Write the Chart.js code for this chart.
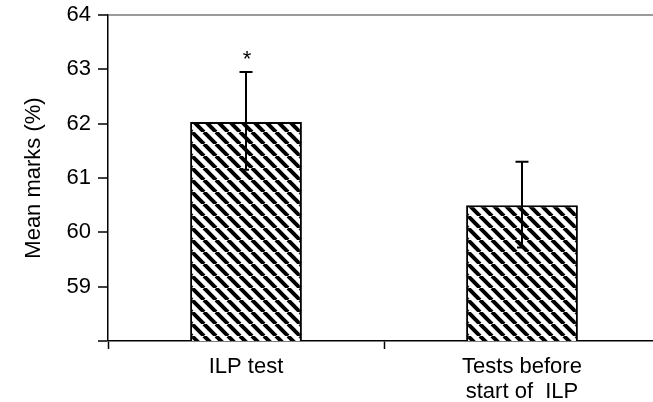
<!DOCTYPE html>
<html>
<head>
<meta charset="utf-8">
<script src="https://cdn.jsdelivr.net/npm/chart.js@4.4.1/dist/chart.umd.min.js"></script>
<style>
  html, body { margin: 0; padding: 0; background: #fff; }
  #wrap { width: 653px; height: 402px; overflow: hidden; position: relative; }
  #c { position: absolute; left: 0; top: 0; }
</style>
</head>
<body>
<div id="wrap"><canvas id="c" width="660" height="402"></canvas></div>
<script>
const categories = [['ILP test'], ['Tests before', 'start of  ILP']];
const means = [62.03, 60.5];
const errUpper = [0.92, 0.8];
const errLower = [0.88, 0.78];
const significance = ['*', ''];
const yTicks = [58, 59, 60, 61, 62, 63, 64];
const yMin = 58, yMax = 64;

const FONT = '"Liberation Sans", Arial, sans-serif';

function makeHatch() {
  const n = 12;
  const p = document.createElement('canvas');
  p.width = n; p.height = n;
  const g = p.getContext('2d');
  g.fillStyle = '#fff';
  g.fillRect(0, 0, n, n);
  g.strokeStyle = '#000';
  g.lineWidth = 4;
  for (const x of [-n, 0, n]) {
    g.beginPath();
    g.moveTo(x, 0);
    g.lineTo(x + n, n);
    g.stroke();
  }
  return document.getElementById('c').getContext('2d').createPattern(p, 'repeat');
}

const errorBars = {
  id: 'errorBars',
  afterDatasetsDraw(chart) {
    const ctx = chart.ctx;
    const meta = chart.getDatasetMeta(0);
    const ys = chart.scales.y;
    ctx.save();
    ctx.strokeStyle = '#000';
    ctx.lineWidth = 2;
    meta.data.forEach((bar, i) => {
      const x = bar.x;
      const yTop = ys.getPixelForValue(means[i] + errUpper[i]);
      const yBot = ys.getPixelForValue(means[i] - errLower[i]);
      ctx.beginPath();
      ctx.moveTo(x, yTop);
      ctx.lineTo(x, yBot);
      ctx.moveTo(x - 6.5, yTop);
      ctx.lineTo(x + 6.5, yTop);
      ctx.moveTo(x - 5, yBot);
      ctx.lineTo(x + 3, yBot);
      ctx.stroke();
      if (significance[i]) {
        ctx.fillStyle = '#000';
        ctx.font = '22px ' + FONT;
        ctx.textAlign = 'center';
        ctx.textBaseline = 'middle';
        ctx.fillText(significance[i], x + 1, yTop - 12);
      }
    });
    ctx.restore();
  }
};

new Chart(document.getElementById('c'), {
  type: 'bar',
  data: {
    labels: categories,
    datasets: [{
      data: means,
      backgroundColor: makeHatch(),
      borderColor: '#000',
      borderWidth: 2,
      categoryPercentage: 1,
      barPercentage: 0.405
    }]
  },
  options: {
    responsive: false,
    animation: false,
    devicePixelRatio: 1,
    layout: { padding: { top: 15, left: 0, right: 0, bottom: 0 } },
    plugins: { legend: { display: false }, tooltip: { enabled: false } },
    scales: {
      x: {
        grid: {
          offset: true,
          drawOnChartArea: false,
          drawTicks: true,
          tickLength: 8,
          tickColor: '#000',
          tickWidth: 1.5
        },
        border: { color: '#000', width: 1.5 },
        ticks: {
          color: '#000',
          padding: 5,
          font: { family: FONT, size: 22, lineHeight: 1.15 }
        },
        afterFit(scale) { scale.height = 61; scale.paddingLeft = 0; scale.paddingRight = 0; }
      },
      y: {
        min: yMin,
        max: yMax,
        afterBuildTicks(scale) { scale.ticks = yTicks.map(v => ({ value: v })); },
        grid: {
          drawOnChartArea: true,
          color: c => (c.tick && c.tick.value === yMax) ? '#9a9a9a' : 'rgba(0,0,0,0)',
          lineWidth: c => (c.tick && c.tick.value === yMax) ? 2 : 0,
          tickLength: 10,
          tickColor: '#000',
          tickWidth: 1.5
        },
        border: { color: '#000', width: 1.5 },
        ticks: {
          color: '#000',
          padding: 7,
          font: { family: FONT, size: 22 },
          callback: v => (v === yMin ? '' : String(v))
        },
        title: {
          display: true,
          text: 'Mean marks (%)',
          color: '#000',
          font: { family: FONT, size: 22 },
          padding: { top: 21, bottom: 0 }
        },
        afterFit(scale) { scale.width = 108; scale.paddingTop = 0; scale.paddingBottom = 0; }
      }
    }
  },
  plugins: [errorBars]
});
</script>
</body>
</html>
